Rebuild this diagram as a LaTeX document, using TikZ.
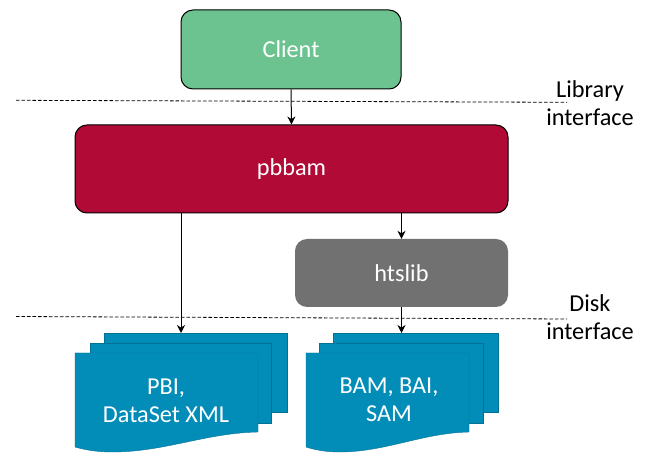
\documentclass[tikz,border=0pt]{standalone}
\usepackage{fontspec}
\setmainfont{Carlito}
\usetikzlibrary{arrows.meta}
\definecolor{cgreen}{HTML}{6CC38F}
\definecolor{cred}{HTML}{B10A36}
\definecolor{cgrey}{HTML}{717171}
\definecolor{cblue}{HTML}{028DB8}
\tikzset{
  x=1pt,y=-1pt,
  box/.style={rounded corners=12pt,minimum height=0pt,inner sep=0pt,font=\fontsize{24.3}{28}\selectfont,text=white,anchor=center},
  conn/.style={draw=black,line width=1pt,-{Stealth[length=8pt,width=8pt]}},
  sep/.style={draw=black,line width=0.8pt,dash pattern=on 3.5pt off 2pt},
  lab/.style={font=\fontsize{24.3}{28}\selectfont,align=center,inner sep=0pt,text=black},
  doclab/.style={font=\fontsize{24.3}{28}\selectfont,align=center,inner sep=0pt,text=white},
  anchorbox/.style={inner sep=0pt,outer sep=0pt,minimum width=#1,minimum height=119pt},
  sheet/.style={fill=cblue,draw=cblue!80!black,line width=0.4pt}
}
\begin{document}
\begin{tikzpicture}
\useasboundingbox (0,0) rectangle (651,470);
\fill[white] (0,0) rectangle (651,470);
% separators
\coordinate (l1a) at (16,100.3);
\coordinate (l1b) at (567,102.3);
\coordinate (l2a) at (16,316.5);
\coordinate (l2b) at (567,319);
\draw[sep] (l1a) -- (l1b);
\draw[sep] (l2a) -- (l2b);
% boxes
\node[box,draw=black,line width=1pt,fill=cgreen,minimum width=220pt,minimum height=79pt] (client) at (291,49.5) {Client};
\node[box,draw=black,line width=1pt,fill=cred,minimum width=433pt,minimum height=88pt] (pbbam) at (291.5,169) {pbbam};
\node[box,fill=cgrey,minimum width=213pt,minimum height=68pt] (htslib) at (401.5,273) {htslib};
% document stacks
\node[anchorbox=212pt] (doca) at (181,392.5) {};
\node[anchorbox=192pt] (docb) at (402,392.5) {};
\draw[sheet] (104,333) -- (287,333) -- (287,412) -- (104,412) -- cycle;
\draw[sheet] (90,343) -- (271,343) -- (271,423) -- (90,423) -- cycle;
\draw[sheet] (75,353) -- (258,353) -- (258,432) .. controls (205,433) and (165,452) .. (112,452) .. controls (98,452) and (85,450) .. (75,447) -- cycle;
\draw[sheet] (333,333) -- (498,333) -- (498,412) -- (333,412) -- cycle;
\draw[sheet] (319,343) -- (483,343) -- (483,423) -- (319,423) -- cycle;
\draw[sheet] (306,353) -- (469,353) -- (469,432) .. controls (422,433) and (386,452) .. (339,452) .. controls (327,452) and (315,450) .. (306,447) -- cycle;
% doc labels
\node[doclab] (t1) at (166,401) {PBI,\\DataSet XML};
\node[doclab] (t2) at (389,400) {BAM, BAI,\\SAM};
% side labels
\node[lab] (lib) at (590,103) {Library\\interface};
\node[lab] (disk) at (590,317) {Disk\\interface};
% connectors
\draw[conn] (client.south) -- (pbbam.north);
\draw[conn] (doca.north |- pbbam.south) -- (doca.north);
\draw[conn] (htslib.north |- pbbam.south) -- (htslib.north);
\draw[conn] (htslib.south) -- (htslib.south |- docb.north);
\end{tikzpicture}
\end{document}
